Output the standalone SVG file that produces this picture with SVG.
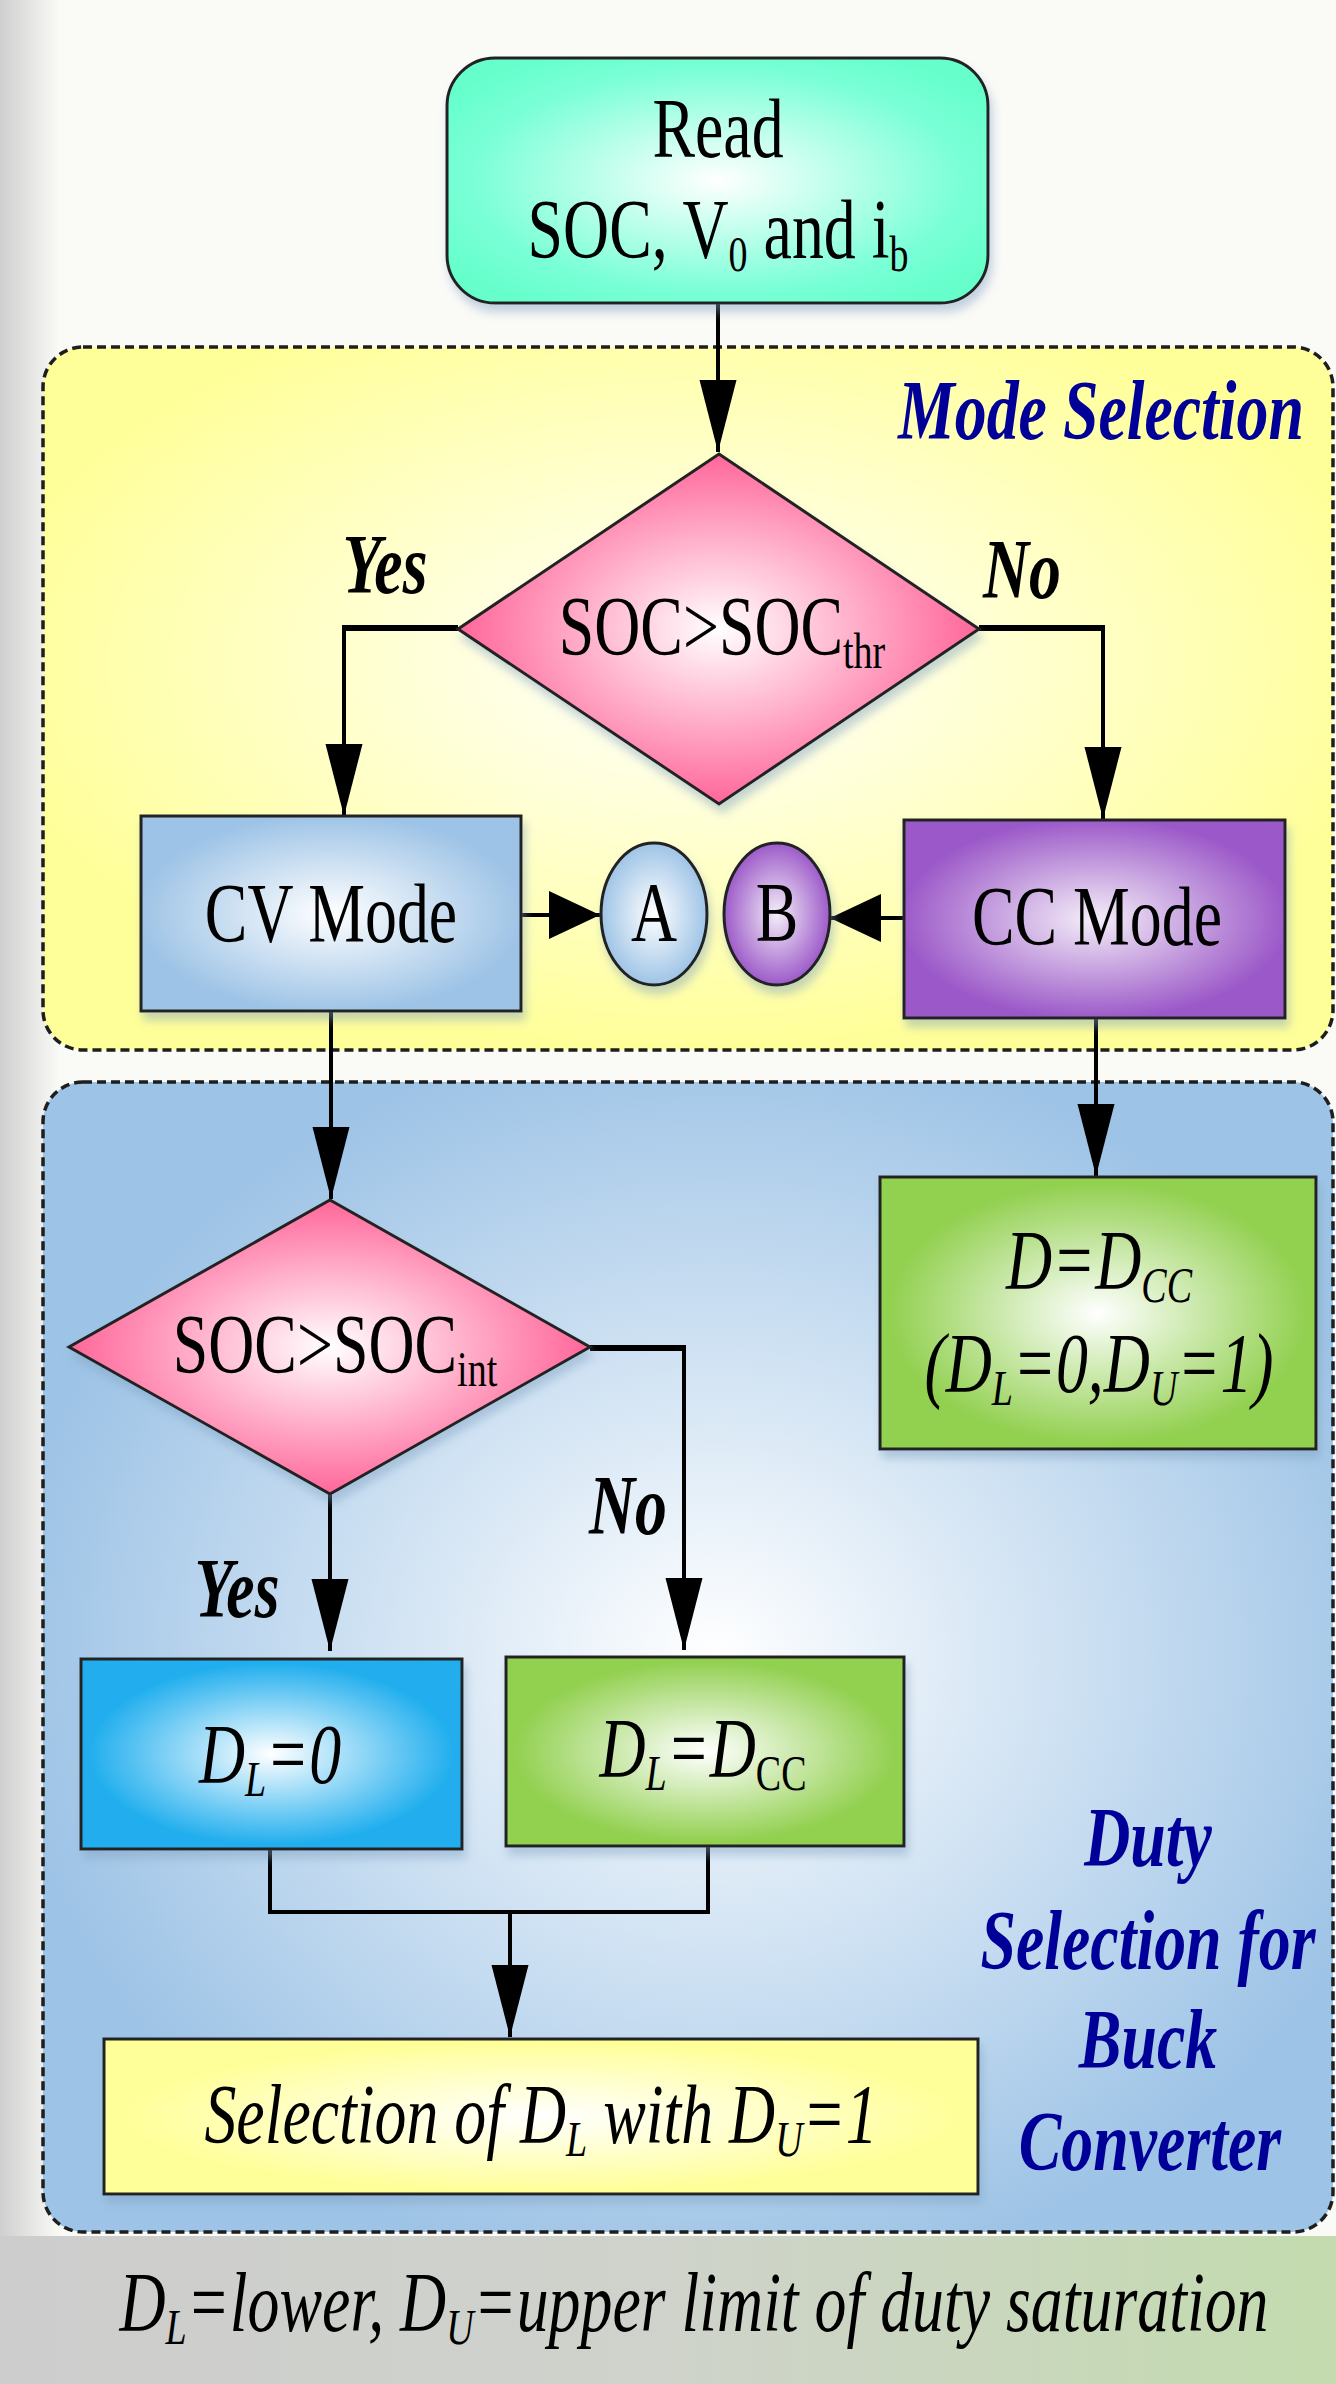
<svg xmlns="http://www.w3.org/2000/svg" width="1336" height="2384" viewBox="0 0 1336 2384">
<style>
.t{font-family:"Liberation Serif","Times New Roman",serif;font-size:84px;fill:#000;text-anchor:middle}
.i{font-style:italic}
.b{font-weight:bold}
.lbl{fill:#000099}
.sub{font-size:50px}
.reg{stroke:#1e1e1e;stroke-width:3.5;stroke-dasharray:9 5}
.nd{stroke:#222;stroke-width:3}
.cn{fill:none;stroke:#000;stroke-width:4}
.thk{fill:none;stroke:#000;stroke-width:6}
</style>
<defs>
<radialGradient id="gTeal" cx="0.5" cy="0.5" r="0.6"><stop offset="0" stop-color="#ffffff"/><stop offset="0.75" stop-color="#7affd6"/><stop offset="1" stop-color="#66ffcc"/></radialGradient>
<radialGradient id="gPink" cx="0.5" cy="0.5" r="0.5"><stop offset="0" stop-color="#ffffff"/><stop offset="1" stop-color="#ff6699"/></radialGradient>
<radialGradient id="gLtBlue" cx="0.5" cy="0.5" r="0.6"><stop offset="0" stop-color="#ffffff"/><stop offset="0.85" stop-color="#9dc3e6"/></radialGradient>
<radialGradient id="gPurple" cx="0.5" cy="0.5" r="0.6"><stop offset="0" stop-color="#f4eef8"/><stop offset="0.85" stop-color="#9b58c8"/></radialGradient>
<radialGradient id="gGreen" cx="0.5" cy="0.5" r="0.6"><stop offset="0" stop-color="#ffffff"/><stop offset="0.8" stop-color="#92d050"/></radialGradient>
<radialGradient id="gCyan" cx="0.5" cy="0.5" r="0.6"><stop offset="0" stop-color="#ffffff"/><stop offset="0.8" stop-color="#20aeee"/></radialGradient>
<radialGradient id="gYel" cx="0.5" cy="0.5" r="0.6"><stop offset="0" stop-color="#ffffff"/><stop offset="0.8" stop-color="#ffff99"/></radialGradient>
<radialGradient id="gMode" cx="0.5" cy="0.45" r="0.55"><stop offset="0" stop-color="#ffffff"/><stop offset="1" stop-color="#ffff99"/></radialGradient>
<radialGradient id="gDuty" cx="0.52" cy="0.5" r="0.55"><stop offset="0" stop-color="#ffffff"/><stop offset="1" stop-color="#9dc3e6"/></radialGradient>
<linearGradient id="gLeft" x1="0" y1="0" x2="1" y2="0"><stop offset="0" stop-color="#cfcfcf"/><stop offset="1" stop-color="#cfcfcf" stop-opacity="0"/></linearGradient>
<linearGradient id="gBot" x1="0" y1="0" x2="1" y2="0"><stop offset="0" stop-color="#cdcdcd"/><stop offset="0.5" stop-color="#cfd3cb"/><stop offset="1" stop-color="#c3dbae"/></linearGradient>
<filter id="sh" x="-10%" y="-10%" width="125%" height="130%"><feDropShadow dx="3" dy="8" stdDeviation="5" flood-color="#7f9fc0" flood-opacity="0.45"/></filter>
<marker id="aV" markerUnits="userSpaceOnUse" markerWidth="74" markerHeight="40" refX="72" refY="18.5" orient="auto" overflow="visible"><path d="M0,0 L72,18.5 L0,37 Z" fill="#000"/></marker>
<marker id="aH" markerUnits="userSpaceOnUse" markerWidth="54" markerHeight="50" refX="51" refY="24" orient="auto" overflow="visible"><path d="M0,0 L51,24 L0,48 Z" fill="#000"/></marker>
</defs>

<g id="background">
<rect x="0" y="0" width="1336" height="2384" fill="#fafaf7"/>
<rect x="0" y="0" width="60" height="2384" fill="url(#gLeft)"/>
<rect x="0" y="2236" width="1336" height="148" fill="url(#gBot)"/>
</g>

<g id="region-mode">
<rect class="reg" x="43" y="347" width="1290" height="703" rx="40" fill="url(#gMode)"/>
<g transform="translate(1101,439) scale(0.76,1)"><text class="t i b lbl" x="0" y="0">Mode Selection</text></g>
</g>

<g id="region-duty">
<rect class="reg" x="43" y="1082" width="1290" height="1150" rx="40" fill="url(#gDuty)"/>
<g transform="translate(1148,1866) scale(0.76,1)"><text class="t i b lbl" x="0" y="0">Duty</text></g>
<g transform="translate(1148,1969) scale(0.76,1)"><text class="t i b lbl" x="0" y="0">Selection for</text></g>
<g transform="translate(1148,2068) scale(0.76,1)"><text class="t i b lbl" x="0" y="0">Buck</text></g>
<g transform="translate(1150,2170) scale(0.76,1)"><text class="t i b lbl" x="0" y="0">Converter</text></g>
</g>

<g id="connectors">
<path class="cn" d="M718,303 V452" marker-end="url(#aV)"/>
<path class="cn" d="M458,628 H344 V816" marker-end="url(#aV)"/>
<path class="thk" d="M458,628 H342"/>
<path class="cn" d="M979,628 H1103 V819" marker-end="url(#aV)"/>
<path class="thk" d="M979,628 H1105"/>
<path class="cn" d="M521,915 H600" marker-end="url(#aH)"/>
<path class="cn" d="M904,918 H830" marker-end="url(#aH)"/>
<path class="cn" d="M331,1011 V1199" marker-end="url(#aV)"/>
<path class="cn" d="M1096,1018 V1176" marker-end="url(#aV)"/>
<path class="cn" d="M330,1494 V1651" marker-end="url(#aV)"/>
<path class="cn" d="M590,1348 H684 V1650" marker-end="url(#aV)"/>
<path class="thk" d="M590,1348 H686"/>
<path class="cn" d="M270,1849 V1912 H708 V1846"/>
<path class="cn" d="M510,1912 V2037" marker-end="url(#aV)"/>
</g>

<g id="edge-labels">
<g transform="translate(385,593) scale(0.76,1)"><text class="t i b" x="0" y="0">Yes</text></g>
<g transform="translate(1022,598) scale(0.76,1)"><text class="t i b" x="0" y="0">No</text></g>
<g transform="translate(628,1534) scale(0.76,1)"><text class="t i b" x="0" y="0">No</text></g>
<g transform="translate(237,1617) scale(0.76,1)"><text class="t i b" x="0" y="0">Yes</text></g>
</g>

<g id="node-read">
<rect class="nd" x="447" y="58" width="541" height="245" rx="48" fill="url(#gTeal)" filter="url(#sh)"/>
<g transform="translate(718,157) scale(0.76,1)"><text class="t" x="0" y="0">Read</text></g>
<g transform="translate(718,258) scale(0.76,1)"><text class="t" x="0" y="0">SOC, V<tspan class="sub" dy="13">0</tspan><tspan dy="-13"> and i</tspan><tspan class="sub" dy="13">b</tspan></text></g>
</g>

<g id="node-dec-thr">
<polygon class="nd" points="719,454 979,629 719,804 458,629" fill="url(#gPink)" filter="url(#sh)"/>
<g transform="translate(722,655) scale(0.76,1)"><text class="t" x="0" y="0">SOC&gt;SOC<tspan class="sub" dy="13">thr</tspan></text></g>
</g>

<g id="node-cv">
<rect class="nd" x="141" y="816" width="380" height="195" fill="url(#gLtBlue)" filter="url(#sh)"/>
<g transform="translate(331,942) scale(0.76,1)"><text class="t" x="0" y="0">CV Mode</text></g>
</g>

<g id="node-a">
<ellipse class="nd" cx="654" cy="914" rx="53" ry="71" fill="url(#gLtBlue)" filter="url(#sh)"/>
<g transform="translate(654,941) scale(0.76,1)"><text class="t" x="0" y="0">A</text></g>
</g>

<g id="node-b">
<ellipse class="nd" cx="777" cy="914" rx="53" ry="71" fill="url(#gPurple)" filter="url(#sh)"/>
<g transform="translate(777,941) scale(0.76,1)"><text class="t" x="0" y="0">B</text></g>
</g>

<g id="node-cc">
<rect class="nd" x="904" y="820" width="381" height="198" fill="url(#gPurple)" filter="url(#sh)"/>
<g transform="translate(1097,945) scale(0.76,1)"><text class="t" x="0" y="0">CC Mode</text></g>
</g>

<g id="node-dec-int">
<polygon class="nd" points="330,1200 590,1347 330,1494 69,1347" fill="url(#gPink)" filter="url(#sh)"/>
<g transform="translate(335,1373) scale(0.76,1)"><text class="t" x="0" y="0">SOC&gt;SOC<tspan class="sub" dy="13">int</tspan></text></g>
</g>

<g id="node-dcc">
<rect class="nd" x="880" y="1177" width="436" height="272" fill="url(#gGreen)" filter="url(#sh)"/>
<g transform="translate(1099,1289) scale(0.76,1)"><text class="t i" x="0" y="0">D=D<tspan class="sub" dy="13">CC</tspan></text></g>
<g transform="translate(1099,1392) scale(0.76,1)"><text class="t i" x="0" y="0">(D<tspan class="sub" dy="13">L</tspan><tspan dy="-13">=0,D</tspan><tspan class="sub" dy="13">U</tspan><tspan dy="-13">=1)</tspan></text></g>
</g>

<g id="node-dl0">
<rect class="nd" x="81" y="1659" width="381" height="190" fill="url(#gCyan)" filter="url(#sh)"/>
<g transform="translate(270,1783) scale(0.76,1)"><text class="t i" x="0" y="0">D<tspan class="sub" dy="13">L</tspan><tspan dy="-13">=0</tspan></text></g>
</g>

<g id="node-dldcc">
<rect class="nd" x="506" y="1657" width="398" height="189" fill="url(#gGreen)" filter="url(#sh)"/>
<g transform="translate(703,1777) scale(0.76,1)"><text class="t i" x="0" y="0">D<tspan class="sub" dy="13">L</tspan><tspan dy="-13">=D</tspan><tspan class="sub" dy="13" font-style="normal">CC</tspan></text></g>
</g>

<g id="node-select">
<rect class="nd" x="104" y="2039" width="874" height="155" fill="url(#gYel)" filter="url(#sh)"/>
<g transform="translate(541,2143) scale(0.76,1)"><text class="t i" x="0" y="0">Selection of D<tspan class="sub" dy="13">L</tspan><tspan dy="-13"> with D</tspan><tspan class="sub" dy="13">U</tspan><tspan dy="-13">=1</tspan></text></g>
</g>

<g id="footnote">
<g transform="translate(694,2331) scale(0.76,1)"><text class="t i" x="0" y="0">D<tspan class="sub" dy="13">L</tspan><tspan dy="-13">=lower, D</tspan><tspan class="sub" dy="13">U</tspan><tspan dy="-13">=upper limit of duty saturation</tspan></text></g>
</g>
</svg>
